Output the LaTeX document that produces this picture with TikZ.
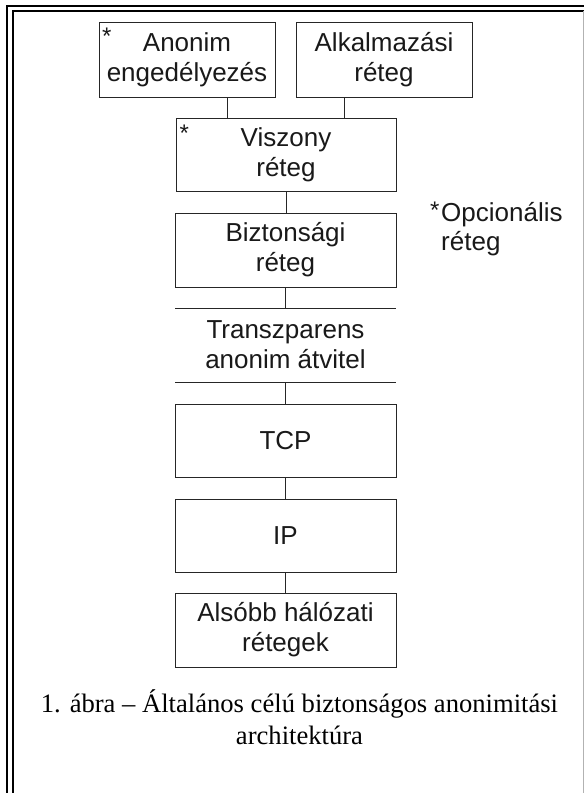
\documentclass[tikz,border=0pt]{standalone}
\usepackage{fontspec}
\setmainfont{Liberation Serif}
\setsansfont{Liberation Sans}
\usetikzlibrary{calc}
\tikzset{
  layer/.style={draw=black!85, line width=1bp, fill=white, inner sep=0pt, align=center,
    font=\sffamily\fontsize{26bp}{30bp}\selectfont, text=black!90},
  plain/.style={inner sep=0pt, align=center, font=\sffamily\fontsize{26bp}{30bp}\selectfont, text=black!90},
  star/.style={inner sep=0pt, anchor=base west, font=\sffamily\fontsize{24bp}{24bp}\selectfont, text=black!90},
  note/.style={inner sep=0pt, anchor=base west, font=\sffamily\fontsize{26bp}{30bp}\selectfont, text=black!90},
  link/.style={draw=black!85, line width=1bp},
  frame/.style={line width=1.8bp, black}
}
\begin{document}
\begin{tikzpicture}[x=1bp,y=-1bp]
\useasboundingbox (0,0) rectangle (584,793);
\fill[white] (0,0) rectangle (584,793);
% frame
\draw[frame] (7,793) -- (7,5.7) -- (584,5.7);
\draw[frame] (12.9,793) -- (12.9,11) -- (584,11);
\draw[black!30, line width=1bp] (583,11) -- (583,793);

% boxes
\node[layer, minimum width=176bp, minimum height=74bp] (anon) at (187,60) {Anonim\\engedélyezés};
\node[layer, minimum width=176bp, minimum height=74bp] (alk) at (384,60) {Alkalmazási\\réteg};
\node[layer, minimum width=220bp, minimum height=73bp] (visz) at (286,154.5) {Viszony\\réteg};
\node[layer, minimum width=221bp, minimum height=74bp] (bizt) at (285.5,250) {Biztonsági\\réteg};
\node[plain] (transz) at (285.5,345) {Transzparens\\anonim átvitel};
\node[layer, minimum width=221bp, minimum height=73bp] (tcp) at (285.5,440.5) {TCP};
\node[layer, minimum width=221bp, minimum height=73bp] (ip) at (285.5,535.5) {IP};
\node[layer, minimum width=221bp, minimum height=74bp] (also) at (285.5,630) {Alsóbb hálózati\\rétegek};

% asterisks
\node[star] (s1) at (102,45) {*};
\node[star] (s2) at (179.5,141) {*};
\node[star] (s3) at (430,218) {*};
\node[note] (opc) at (441,221) {Opcionális};
\node[note] (opc2) at (441,250) {réteg};

% horizontal rules
\coordinate (r1w) at (175,308); \coordinate (r1e) at (396,308);
\coordinate (r2w) at (175,382); \coordinate (r2e) at (396,382);
\draw[link] (r1w) -- (r1e);
\draw[link] (r2w) -- (r2e);

% connectors
\coordinate (c1) at (227,0);
\coordinate (c2) at (344,0);
\draw[link] (anon.south -| c1) -- (visz.north -| c1);
\draw[link] (alk.south -| c2) -- (visz.north -| c2);
\draw[link] (visz.south) -- (visz.south |- bizt.north);
\draw[link] (bizt.south) -- (bizt.south |- r1w);
\draw[link] (r2w -| tcp.north) -- (tcp.north);
\draw[link] (tcp.south) -- (ip.north);
\draw[link] (ip.south) -- (also.north);

% caption
\node[inner sep=0pt, align=center, font=\rmfamily\fontsize{26.6bp}{32bp}\selectfont, text=black] (cap) at (299.5,717) {1. ábra – Általános célú biztonságos anonimitási\\architektúra};
\end{tikzpicture}
\end{document}
